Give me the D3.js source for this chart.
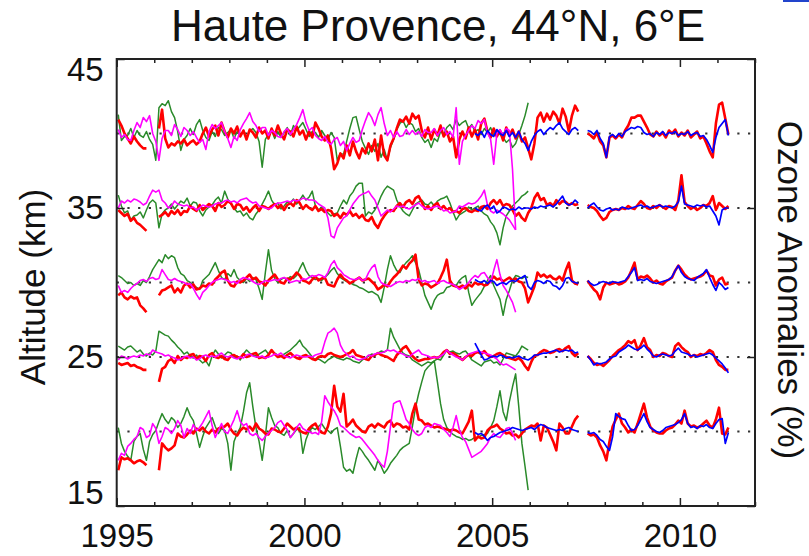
<!DOCTYPE html>
<html><head><meta charset="utf-8">
<script src="https://cdn.jsdelivr.net/npm/d3@7"></script>
<style>
html,body{margin:0;padding:0;background:#fff;}
svg{display:block;font-family:"Liberation Sans",Arial,Helvetica,sans-serif;}
</style></head>
<body>
<svg id="chart" width="809" height="556"></svg>
<script>
// ---- data: monthly ozone anomalies (%) at each altitude; month index 0 = Jan 1995 ----
const TITLE = "Haute Provence, 44°N, 6°E";
const X_LABELS = [1995, 2000, 2005, 2010];
const Y_LABELS = [15, 25, 35, 45];
const LEVELS = [40, 35, 30, 25, 20];
const RED_START = 0, GREEN_START = 0, MAGENTA_START = 0, BLUE_START = 114;
const PCT_PER_KM = 15;

const red40 = [14,8,0,-5,-10,-3,-8,-12,-15,-15,null,null,
 null,5,24,-5,-14,-10,-12,-8,-10,-6,-12,-9,
 -7,-11,-8,0,6,-3,4,8,-2,11,2,-4,
 5,0,7,-3,3,-6,4,1,-4,6,0,3,
 -5,5,-2,8,0,-6,4,2,-3,7,-1,3,
 -6,2,-4,11,5,-3,-7,-2,-15,-36,-30,-20,
 -25,-12,-22,-8,-18,-25,-15,-20,-10,-18,-6,-27,
 -2,-22,-27,-12,-5,5,14,12,17,10,20,15,
 18,3,-4,6,-6,4,-2,8,-3,2,-8,-3,
 -24,-6,2,-5,6,-3,4,-6,10,15,2,-4,
 5,-3,3,-7,6,-2,4,-5,2,-8,-4,-15,
 -26,-10,16,21,12,20,14,22,18,10,25,17,
 2,18,28,22,null,null,0,-2,-5,1,-8,-12,
 -24,-4,-2,-5,-1,-4,3,8,16,16,18,18,
 12,6,-1,-3,2,-2,1,-4,3,0,4,-3,
 1,-2,3,-4,-1,2,-5,-3,-10,-18,-24,10,
 29,31,15,-1];
const blue40 = [0,-2,2,-4,3,-1,
 -3,4,0,-2,3,-3,1,-4,2,-6,-10,-17,
 -8,-2,2,4,-1,3,6,4,8,11,5,2,
 -1,4,6,3,null,null,3,2,-1,3,-5,-10,
 -24,-3,-1,-4,0,-3,2,4,6,5,7,6,
 1,-1,0,-3,1,-1,2,-2,1,0,2,-2,
 0,-1,2,-2,0,1,-3,-2,-6,-12,-19,-4,
 6,10,14,-2];
const green40 = [19,-7,-3,-2,5,-4,3,-2,-4,2,-6,-11,
 -27,26,30,28,33,22,16,2,-17,-6,-2,5,
 -1,9,14,3,-4,-7,2,-3,6,4,-2,1,
 4,-5,2,-3,3,-4,2,5,1,-8,-34,-6,
 -1,3,-5,2,-4,1,6,-2,8,3,7,11,
 4,-3,2,1,-4,3,-2,-6,1,-4,-27,-20,
 -21,-8,5,16,17,4,-8,-15,-21,-12,-18,-10,
 -24,-16,-27,-14,-6,4,10,13,6,11,9,2,
 5,-4,-9,-6,-14,-5,-8,2,-1,6,9,4,
 14,8,11,13,5,9,2,4,-1,5,1,6,
 -2,3,-1,-4,-9,-6,-14,-10,-1,8,18,31];
const magenta40 = [4,-4,-1,-6,-7,3,11,6,16,12,18,0,
 -8,-27,-5,3,3,-2,9,4,-3,6,3,-2,
 2,-4,-9,-6,-16,2,9,5,8,11,2,-5,
 -14,-3,-7,4,10,15,21,12,8,2,6,6,
 -2,3,1,-3,-4,2,5,-1,4,9,16,24,
 11,3,6,-2,-5,-7,-3,-9,-11,-6,-4,-12,
 -8,-17,-10,-4,-9,-7,4,13,21,16,8,19,
 26,10,-2,3,-4,2,-3,-2,4,-1,3,-1,
 2,-3,4,1,1,5,-2,3,6,-1,2,-4,
 26,-31,-8,-2,3,8,5,13,10,14,1,-6,
 -31,0,4,-2,5,3,-36,-97];

const red35 = [-2,-5,-8,-6,-13,-10,-15,-17,-20,-23,null,null,
 null,-9,-7,-4,-8,-3,-6,-2,-7,-3,-4,2,
 -1,-3,3,-2,1,4,2,-3,5,1,3,7,
 5,-1,4,3,-2,1,-4,0,3,-3,2,1,
 -1,2,4,0,3,-2,3,5,2,8,5,-1,
 3,0,-2,2,-3,-1,-4,-2,-3,-8,-6,-10,
 -5,-7,-3,-8,-6,-10,-7,-12,-13,-9,-16,-20,
 -13,-8,-4,-2,-3,2,5,1,6,8,4,10,
 12,6,-1,2,-2,3,5,-1,2,-2,0,-4,
 -3,-5,-1,0,-3,-4,-2,-3,1,2,-1,5,
 8,4,8,2,4,3,-2,-8,-5,-10,-13,-5,
 0,10,15,8,10,3,5,2,8,4,7,6,
 3,5,3,4,null,null,3,1,0,-3,-8,-12,
 -10,-4,-2,-1,-2,0,-1,2,0,-1,3,7,
 4,0,-1,2,0,3,1,-1,2,1,-2,8,
 33,6,2,-1,1,-2,0,3,2,5,12,-2,
 5,2,-1,2];
const blue35 = [0,-2,-3,1,3,-1,
 2,-5,-3,1,0,-2,-1,-2,1,-1,0,0,
 -1,1,0,2,1,2,3,1,4,8,12,5,
 3,4,8,5,null,null,0,3,5,1,-2,-3,
 -1,0,-2,-1,-2,1,0,-1,0,1,2,3,
 1,2,0,1,2,3,1,2,1,0,2,6,
 22,4,3,2,1,3,2,3,1,2,-3,-8,
 -17,-2,0,0];
const green35 = [13,2,-5,-3,-12,-8,-7,-4,-10,-2,5,8,
 5,-20,-6,-2,0,4,-1,3,7,5,10,2,
 6,5,-3,-8,-2,1,3,8,11,5,17,9,
 4,0,-4,-3,-8,-5,-10,-12,-6,-2,4,10,
 17,8,3,5,-1,2,6,5,9,4,8,13,
 8,11,17,2,-2,1,-3,-5,-8,-6,-5,2,
 8,4,12,16,22,25,25,-8,-4,-6,-2,4,
 12,18,22,20,18,8,2,-3,-6,-8,-2,4,
 6,8,4,3,6,2,7,9,10,12,5,-4,
 -12,-7,-5,-3,1,-2,0,2,-3,-6,-8,-14,
 -18,-25,-37,-20,-8,-3,2,5,8,12,14,17];
const magenta35 = [0,7,5,8,6,9,8,6,3,5,12,18,
 16,18,8,5,0,2,7,4,3,2,3,0,
 1,-2,0,3,2,1,2,4,5,5,7,8,
 6,7,5,8,9,10,7,5,6,2,1,0,
 -1,0,3,5,5,6,7,6,8,7,8,10,
 9,8,8,7,4,2,0,-10,-28,-30,-20,-15,
 -10,-8,-2,4,8,12,14,15,17,12,8,0,
 -8,-5,-2,-4,-1,2,1,2,0,-1,1,3,
 5,2,0,-1,0,1,2,0,-3,-2,-5,-4,
 -3,2,1,3,5,4,5,8,12,18,3,-3,
 -5,-2,-4,-6,-9,-12,-17,-22];

const red30 = [-13,-10,-15,-17,-14,-16,-15,-23,-26,-30,null,null,
 null,-13,-8,-7,-5,-3,-10,-6,-10,-3,-1,-5,
 -2,-7,-6,-3,-4,-1,-2,3,6,10,12,2,
 -3,-4,1,0,2,5,8,3,5,1,0,-3,
 2,5,8,3,0,-1,4,3,6,10,7,2,
 1,-1,3,6,2,4,5,-2,-3,-4,3,8,
 4,2,-1,1,3,5,2,3,4,1,-2,-7,
 -5,-2,-4,1,5,8,12,17,14,19,22,28,
 3,-3,-1,-2,-5,-3,-1,5,12,23,2,-3,
 -4,-5,-3,-6,-2,-4,0,-2,-1,-3,-2,2,
 6,3,4,1,3,5,2,4,1,0,-6,-20,
 -12,-4,10,6,8,5,7,4,3,6,2,12,
 20,2,-1,-2,null,null,2,-3,-7,-10,-17,-5,
 0,-2,-1,0,-2,-1,1,5,12,20,3,6,
 5,7,4,0,2,-1,-2,1,3,5,12,17,
 13,8,5,3,4,5,6,8,12,7,6,-3,
 3,5,-2,-1];
const blue30 = [3,1,0,2,-1,2,
 1,-3,-1,0,-2,1,2,1,4,5,7,-4,
 -7,0,2,1,-1,2,1,-3,-4,-7,-3,4,
 5,1,0,-1,null,null,2,-1,-3,-2,0,1,
 0,-1,1,0,0,1,2,6,10,15,2,3,
 2,4,1,0,-1,0,1,2,3,6,12,17,
 10,6,4,3,2,5,7,9,13,5,-2,-8,
 0,-3,-7,-5];
const green30 = [7,5,2,-1,0,-3,-1,-3,2,0,6,13,
 18,23,20,28,24,27,25,15,9,7,2,0,
 -3,-5,-7,2,5,8,14,20,12,5,3,9,
 6,13,5,2,0,4,1,5,3,-6,-17,10,
 33,12,4,0,3,5,3,6,4,7,14,20,
 12,7,5,3,4,2,5,8,12,15,9,5,
 3,1,0,-2,-3,-5,-6,-8,-10,-9,-11,-13,
 -20,-5,13,27,18,12,10,16,20,23,27,20,
 13,0,-13,-20,-27,-18,-13,-11,-10,-5,-4,-2,
 -3,2,5,7,-10,-23,-18,-14,-10,-4,2,7,
 -3,-10,-17,-33,-17,-8,2,7,6,4,6,5];
const magenta30 = [-3,-10,-8,-10,-6,-3,-1,2,3,1,4,5,
 3,4,13,8,3,2,4,2,1,0,-2,-1,
 -6,-12,-17,-10,-7,-3,0,2,3,4,3,2,
 0,1,-1,3,5,4,3,1,-1,-2,0,2,
 1,2,3,2,4,5,3,0,1,2,1,4,
 3,5,7,6,8,7,5,10,18,22,15,12,
 8,6,4,3,3,5,2,3,10,15,18,6,
 0,-2,-3,-4,-2,0,1,0,2,1,3,2,
 4,1,2,0,1,2,-1,1,2,0,-1,-2,
 -4,-7,-5,-3,0,4,7,5,9,10,5,0,
 12,23,8,-3,-8,-14,-20,-30];

const red25 = [-6,-8,-7,-6,-9,-8,-10,-11,-13,-13,null,null,
 null,-25,-12,-10,-4,-2,-6,1,-3,0,-1,2,
 3,-2,1,0,-4,2,4,0,-1,1,-2,-3,
 1,2,0,-1,3,0,1,3,4,-1,0,-1,
 2,7,3,0,1,-1,2,4,1,-1,-2,1,
 2,0,-2,-3,0,1,0,3,4,2,1,0,
 1,3,4,7,2,1,0,-2,-3,1,2,4,
 2,1,0,-2,-4,2,5,9,11,6,1,-2,
 -4,-3,-2,-2,-1,0,-1,1,5,7,3,4,
 2,-1,-3,0,2,1,4,5,3,6,2,0,
 1,3,4,2,0,-1,-2,-3,-1,-4,-9,-13,
 -5,1,2,5,7,6,4,5,7,8,6,9,
 11,4,1,4,null,null,1,-2,-6,-8,-7,-9,
 -6,-3,1,4,7,9,12,16,14,17,7,12,
 19,10,7,0,2,1,4,3,1,0,11,14,
 10,7,5,0,2,1,3,2,4,7,5,-3,
 -8,-10,-13,-13];
const blue25 = [14,8,2,-3,-2,0,
 1,0,2,1,-1,0,-1,0,1,-1,-2,-3,
 -1,2,2,3,4,4,5,6,7,5,6,7,
 6,7,4,5,null,null,1,-3,-8,-6,-7,-6,
 -5,-2,0,1,5,7,9,12,10,8,7,9,
 12,8,5,1,0,2,3,2,1,2,6,9,
 5,4,3,1,2,0,1,2,3,4,2,-1,
 -4,-7,-11,-16];
const green25 = [11,9,7,10,11,8,5,7,3,1,4,2,
 6,26,24,22,21,17,14,10,7,3,5,1,
 -1,2,-3,-6,-4,-9,1,7,3,-1,2,5,
 4,0,1,-3,3,7,4,2,1,3,5,7,
 3,6,4,2,1,3,5,7,10,13,17,11,
 8,4,0,-3,-2,-4,-6,-3,-1,1,-1,-2,
 -3,-1,-2,-4,-5,-6,-3,-1,1,3,2,4,
 6,5,7,29,20,14,8,4,2,1,-3,-5,
 -7,-9,-7,-5,-6,-4,-2,-3,2,7,5,6,
 4,3,5,6,2,-3,-5,-7,-9,-5,-4,-3,
 -6,-5,-8,-2,4,3,2,1,5,11,9,7];
const magenta25 = [-3,1,0,-2,0,1,0,2,1,3,2,7,
 5,4,3,1,2,0,-1,-3,-2,0,1,-1,
 0,-3,-2,1,2,0,1,0,2,4,1,0,
 1,-1,-2,0,-1,2,3,1,0,0,1,-1,
 0,1,3,2,4,1,0,-1,1,2,1,0,
 0,1,0,2,3,4,15,24,26,29,24,12,
 6,3,0,1,-2,-3,-2,-1,2,1,3,4,
 4,5,7,6,7,5,4,3,1,0,3,5,
 7,3,2,1,-1,0,-1,1,3,7,4,2,
 0,-1,-3,0,3,4,5,6,5,4,3,2,
 0,-2,-6,-8,-7,-9,-11,-13];

const red20 = [-39,-26,-28,-27,-29,-32,-30,-29,-31,-34,null,null,
 null,-39,-12,-16,-19,-17,-14,-2,-5,-6,-3,1,
 -2,3,1,4,0,-2,2,-1,3,4,5,8,
 2,-2,-4,1,4,2,5,1,8,3,1,-2,
 -3,3,2,0,-1,3,8,5,2,4,1,-1,
 -2,3,6,8,2,-1,-2,5,18,46,25,20,
 38,5,8,12,6,3,0,-1,5,7,4,8,
 6,4,9,11,5,8,7,4,5,2,18,28,
 12,11,7,8,6,4,5,4,3,2,1,2,
 1,-1,-2,4,10,21,-9,-5,-7,-6,1,4,
 5,7,3,1,-2,-1,-4,-3,-6,-2,2,4,
 6,5,8,-9,6,4,-3,-10,-19,8,4,-2,
 -2,5,12,16,null,null,-2,-4,-3,-6,-14,-20,
 -29,-10,5,12,18,8,4,-1,2,-1,8,18,
 28,14,5,1,-1,-2,-2,1,3,4,7,11,
 8,21,8,5,6,4,5,8,11,6,4,12,
 24,-2,-3,4];
const blue20 = [-1,-3,-2,-5,-9,-6,
 -5,-3,-1,0,1,2,4,3,2,1,2,3,
 4,2,5,7,6,4,3,2,1,2,1,3,
 4,2,1,0,null,null,-1,-2,-1,-4,-8,-10,
 -15,-19,-5,18,15,13,12,6,1,2,6,12,
 18,10,4,2,0,-1,1,4,5,6,7,9,
 12,18,8,4,5,3,6,5,7,4,3,8,
 12,13,-12,-1];
const green20 = [4,-12,-20,-25,-29,-10,-5,-2,-18,-29,-10,-3,
 1,10,18,12,8,14,11,4,8,15,24,16,
 11,-2,-16,-5,4,9,14,5,-2,3,1,-12,
 -39,-10,-2,4,20,39,49,25,4,-10,-29,-5,
 24,14,6,4,-2,-4,1,-6,-2,2,4,-22,
 -8,0,4,2,5,8,3,1,-2,2,4,-15,
 -36,-40,-38,-42,-28,-16,-20,-25,-29,-34,-39,-29,
 -35,-42,-38,-32,-28,-24,-19,-16,-14,-12,5,24,
 38,50,61,65,68,71,50,28,12,4,0,-3,
 -5,-6,-8,-7,-9,-8,-6,-6,-4,-3,-2,4,
 11,25,41,20,11,30,45,58,25,-12,-35,-59];
const magenta20 = [-29,-22,-24,-15,-12,-8,-5,4,2,-6,-4,8,
 3,-12,-5,4,2,-2,3,11,6,-6,3,-2,
 7,1,4,9,15,21,6,-6,1,8,0,-2,
 5,12,21,10,6,8,-2,-4,-2,-6,-9,-5,
 -2,1,4,9,11,6,2,-6,-2,4,8,3,
 1,0,-2,-1,-3,10,36,30,25,21,15,6,
 4,1,-2,-4,-6,-5,-8,-12,-16,-20,-24,-29,
 -33,-36,-20,5,28,30,31,22,12,8,2,-2,
 -4,-2,4,6,4,8,7,6,2,-1,-5,4,
 16,2,-6,-10,-18,-26,-24,-22,-20,-16,-12,-6,
 -2,-5,-6,-2,3,4,-2,-9];

// series table built from the arrays above (drawing order: green, red, magenta, blue)
const SERIES = [
  {name:"green", color:"#2a8a2a", width:1.5, start:GREEN_START, data:{40:green40,35:green35,30:green30,25:green25,20:green20}},
  {name:"red", color:"#ff0000", width:2.6, start:RED_START, data:{40:red40,35:red35,30:red30,25:red25,20:red20}},
  {name:"magenta", color:"#ff00ff", width:1.6, start:MAGENTA_START, data:{40:magenta40,35:magenta35,30:magenta30,25:magenta25,20:magenta20}},
  {name:"blue", color:"#0000ff", width:1.7, start:BLUE_START, data:{40:blue40,35:blue35,30:blue30,25:blue25,20:blue20}}
];

// ---- drawing ----
const svg = d3.select("#chart");
const L = 116.7, R = 755, T = 59, B = 506;
const x = d3.scaleLinear().domain([1995, 2012]).range([L, R]);
const y = d3.scaleLinear().domain([15, 45]).range([B, T]);
const monthToYear = m => 1995 + (m + 0.5) / 12;

svg.append("defs").append("clipPath").attr("id","clip")
  .append("rect").attr("x", L).attr("y", T).attr("width", R - L).attr("height", B - T);

// dotted reference lines at each level
svg.append("g").selectAll("line").data(LEVELS).join("line")
  .attr("x1", L).attr("x2", R)
  .attr("y1", d => y(d)).attr("y2", d => y(d))
  .attr("stroke", "#333").attr("stroke-width", 2)
  .attr("stroke-dasharray", "2.2 8.5");

const plot = svg.append("g").attr("clip-path", "url(#clip)");
SERIES.forEach(s => {
  LEVELS.forEach(lev => {
    const arr = s.data[lev];
    const pts = arr.map((v, i) => ({t: monthToYear(s.start + i), v}));
    const line = d3.line()
      .defined(d => d.v !== null)
      .x(d => x(d.t))
      .y(d => y(lev + d.v / PCT_PER_KM));
    plot.append("path").datum(pts)
      .attr("fill", "none").attr("stroke", s.color)
      .attr("stroke-width", s.width).attr("stroke-linejoin", "round")
      .attr("d", line);
  });
});

// axes
const years = d3.range(1995, 2013);
const minorYears = years.filter(v => v % 5 !== 0);
function styleAxis(g){
  g.select(".domain").remove();
  g.selectAll(".tick line").attr("stroke", "#222").attr("stroke-width", 1.5);
  g.selectAll("text").attr("fill", "#111").style("font-size", "33px")
    .style("font-family", '"Liberation Sans", Arial, Helvetica, sans-serif');
}
svg.append("g").attr("transform", `translate(0,${B})`)
  .call(d3.axisBottom(x).tickValues(minorYears).tickSize(-4).tickFormat(""))
  .call(styleAxis);
svg.append("g").attr("transform", `translate(0,${B})`)
  .call(d3.axisBottom(x).tickValues(X_LABELS).tickSize(-8).tickPadding(18).tickFormat(d3.format("d")))
  .call(styleAxis);
svg.append("g").attr("transform", `translate(0,${T})`)
  .call(d3.axisTop(x).tickValues(minorYears).tickSize(-4).tickFormat(""))
  .call(styleAxis);
svg.append("g").attr("transform", `translate(0,${T})`)
  .call(d3.axisTop(x).tickValues(X_LABELS).tickSize(-8).tickFormat(""))
  .call(styleAxis);

const yAx = svg.append("g").attr("transform", `translate(${L},0)`)
  .call(d3.axisLeft(y).tickValues(Y_LABELS).tickSize(-8).tickPadding(13).tickFormat(d3.format("d")))
  .call(styleAxis);
yAx.selectAll(".tick text").attr("y", d => d === 45 ? 11 : d === 15 ? -13 : 0);
svg.append("g").attr("transform", `translate(${R},0)`)
  .call(d3.axisRight(y).tickValues(Y_LABELS).tickSize(-8).tickFormat(""))
  .call(styleAxis);

// frame
svg.append("rect").attr("x", L).attr("y", T).attr("width", R - L).attr("height", B - T)
  .attr("fill", "none").attr("stroke", "#222").attr("stroke-width", 2);

// titles
svg.append("text").attr("x", 438).attr("y", 41).attr("text-anchor", "middle")
  .style("font-size", "44px").attr("fill", "#111").text(TITLE);
svg.append("text").attr("transform", "translate(45,287) rotate(-90)")
  .attr("text-anchor", "middle").style("font-size", "35px").attr("fill", "#111")
  .text("Altitude (km)");
svg.append("text").attr("transform", "translate(778,290) rotate(90)")
  .attr("text-anchor", "middle").style("font-size", "35px").attr("fill", "#111")
  .text("Ozone Anomalies (%)");

// small blue mark at top-right corner of the source image
svg.append("line").attr("x1", 783).attr("x2", 809).attr("y1", 1).attr("y2", 1)
  .attr("stroke", "#2244cc").attr("stroke-width", 2);
</script>
</body></html>
